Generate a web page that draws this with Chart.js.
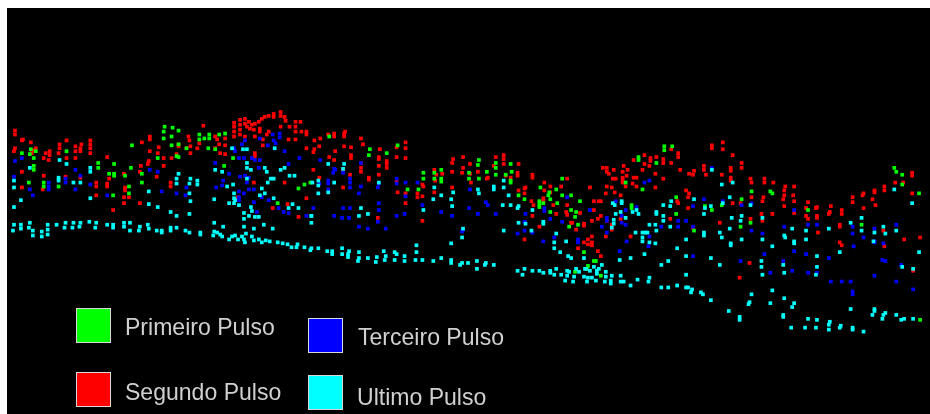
<!DOCTYPE html>
<html>
<head>
<meta charset="utf-8">
<title>Pulsos</title>
<script src="https://cdn.jsdelivr.net/npm/chart.js@4/dist/chart.umd.min.js"></script>
<style>
    html, body { margin: 0; padding: 0; background: #fff; overflow: hidden; }
    #caixa { position: absolute; left: 7px; top: 8px; width: 923px; height: 406px; background: #000; }
    .quadro { position: absolute; width: 33px; height: 33px; border: 1px solid #d8d8d8; }
    .rotulo { position: absolute; color: #d0d0d0; font: 24px "Liberation Sans", Arial, sans-serif; line-height: 30px; white-space: nowrap; transform: scaleX(.96); transform-origin: left center; }
</style>
</head>
<body>
<div id="caixa"><canvas id="pulsos" width="923" height="406"></canvas></div>
<div id="legenda"></div>
<script>
// pontos: [distancia, profundidade]
const segundoPulso = [[11,129],[11,133],[19,138],[18,139],[27,141],[11,147],[10,150],[32,147],[30,149],[28,152],[42,152],[46,150],[46,154],[40,157],[45,159],[56,143],[55,152],[56,147],[63,139],[63,157],[72,145],[72,150],[72,157],[78,143],[77,150],[77,147],[87,139],[87,143],[87,147],[87,152],[104,156],[139,141],[147,135],[147,138],[147,150],[156,146],[155,152],[161,157],[169,157],[176,143],[176,145],[174,153],[186,135],[187,139],[188,145],[188,152],[184,147],[197,142],[195,147],[201,124],[138,165],[146,160],[145,163],[137,171],[121,173],[161,165],[154,176],[168,182],[168,186],[104,183],[104,186],[93,182],[93,186],[77,177],[62,176],[40,175],[18,171],[18,187],[39,189],[93,195],[122,187],[122,190],[126,197],[121,197],[121,203],[137,203],[110,210],[106,178],
    [232,121],[232,125],[232,130],[232,135],[238,118],[238,123],[238,128],[238,133],[243,117],[243,122],[247,120],[245,125],[248,127],[250,123],[252,128],[253,122],[257,120],[260,117],[263,115],[267,114],[272,112],[272,115],[279,110],[279,114],[283,115],[284,119],[288,125],[294,120],[294,125],[294,130],[299,120],[300,130],[305,130],[305,133],[279,125],[258,127],[258,130],[267,130],[265,133],[253,135],[243,135],[223,137],[213,135],[215,138],[217,143],[223,144],[213,147],[218,152],[223,153],[261,138],[261,144],[287,138],[294,138],[305,147],[253,152],[253,155],[252,182],[283,182],[305,198],[286,204],[271,208],[297,217],[236,197],
    [313,139],[319,137],[327,133],[333,132],[333,135],[343,132],[343,135],[344,130],[360,137],[362,143],[318,145],[313,148],[312,151],[343,145],[350,146],[334,150],[350,154],[350,157],[328,156],[333,159],[378,156],[379,148],[378,158],[396,146],[405,141],[405,147],[405,157],[396,156],[386,160],[386,163],[386,167],[360,162],[360,167],[360,171],[378,165],[378,174],[312,169],[318,177],[342,169],[349,174],[368,177],[368,179],[342,187],[396,180],[397,192],[405,193],[405,203],[422,184],[423,186],[417,193],[417,197],[422,196],[422,221],[434,169],[436,174],[442,173],[435,180],[434,192],[452,171],[453,158],[452,162],[452,187],[463,156],[463,167],[462,172],[470,163],[470,173],[471,182],[478,171],[487,178],[488,177],[496,156],[494,165],[504,154],[504,158],[504,163],[518,172],[518,175],[519,163],[506,175],[511,177],[533,174],[533,177],[377,218],[519,190],[525,188],[526,187],[525,193],[532,201],[534,205],[545,182],[551,186],[545,190],[562,186],[568,178],[551,192],[544,198],[544,201],[554,205],[568,205],[567,212],[568,215],[573,223],[577,230],[581,213],[585,224],[585,226],[591,187],[595,201],[600,201],[602,201],[604,167],[608,167],[608,171],[610,173],[615,169],[617,178],[614,178],[608,186],[613,187],[616,192],[607,193],[595,210],[593,221],[602,216],[599,219],[608,221],[613,225],[613,230],[607,237],[533,216],[540,227],[525,240],[593,237],[589,240],[589,245],[585,243],[593,243],[593,246],[579,249],[599,252],[602,257],[557,214],[572,223],
    [725,141],[714,144],[714,147],[725,148],[735,154],[680,152],[680,156],[673,148],[665,158],[665,162],[646,154],[646,163],[652,157],[652,160],[658,156],[635,159],[673,162],[651,165],[625,165],[629,169],[644,169],[624,171],[628,175],[635,177],[638,177],[624,177],[624,180],[624,182],[627,186],[634,183],[638,186],[657,173],[665,178],[657,187],[682,169],[691,173],[696,170],[695,174],[706,165],[706,169],[708,174],[724,174],[733,167],[733,170],[733,177],[733,180],[744,162],[744,167],[753,178],[754,182],[767,178],[767,182],[776,182],[788,186],[787,190],[797,186],[688,190],[691,193],[690,197],[679,201],[680,203],[690,208],[622,195],[735,203],[743,203],[754,197],[766,197],[765,201],[787,195],[786,199],[797,201],[787,206],[811,202],[796,195],[797,213],[820,207],[819,208],[809,208],[834,206],[833,212],[832,214],[820,216],[820,218],[811,219],[809,216],[845,210],[845,214],[856,202],[856,197],[867,193],[866,195],[878,190],[878,192],[888,186],[888,190],[876,199],[879,205],[867,208],[916,172],[916,175],[899,182],[907,182],[916,193],[672,219],[622,219],[722,223],[753,219],[765,221],[764,214],[775,214],[695,228],[632,237],[843,225],[843,227],[821,233],[887,231],[908,240],[924,238],[843,243],[845,246],[888,247],[752,264],[742,279],[917,272]]

const primeiroPulso = [[162,125],[161,130],[170,126],[176,129],[169,135],[161,137],[169,144],[176,143],[176,156],[174,155],[197,133],[197,138],[207,133],[207,137],[217,133],[223,132],[202,137],[206,147],[213,148],[222,165],[231,157],[129,144],[155,157],[184,147],[27,148],[26,153],[32,150],[18,152],[30,157],[30,165],[30,169],[63,150],[95,162],[95,167],[111,163],[111,173],[111,175],[106,173],[128,167],[122,175],[139,173],[126,186],[126,193],[139,182],[110,195],[40,182],[40,186],[25,182],[55,186],[297,188],[303,184],[276,203],[309,182],
    [369,148],[368,154],[397,144],[328,135],[386,152],[423,172],[423,178],[434,172],[434,178],[441,169],[441,178],[441,181],[418,189],[407,189],[479,159],[478,164],[496,162],[496,167],[496,174],[469,172],[469,178],[479,178],[487,171],[511,163],[512,171],[506,174],[511,180],[511,182],[541,187],[550,192],[549,195],[551,199],[540,201],[540,204],[540,207],[544,203],[551,212],[557,189],[563,178],[563,195],[572,195],[581,201],[558,203],[519,195],[525,199],[572,210],[577,212],[576,217],[579,225],[570,227],[585,253],[595,262],[589,267],[588,270],[576,273],[602,277],[597,262],
    [666,145],[666,149],[674,145],[640,156],[640,159],[658,162],[627,182],[644,189],[633,205],[633,208],[678,197],[678,214],[707,206],[714,210],[724,205],[744,199],[754,191],[773,191],[775,193],[811,210],[753,223],[743,227],[696,231],[898,167],[900,171],[906,174],[906,184],[923,193],[865,225],[924,322]]

const terceiroPulso = [[11,160],[18,157],[10,176],[26,189],[29,195],[45,182],[45,186],[45,189],[62,178],[62,182],[72,169],[72,189],[77,175],[87,184],[104,195],[147,169],[155,171],[159,191],[174,193],[183,195],[184,187],[213,162],[227,173],[214,187],[220,185],[221,180],[240,143],[243,139],[258,137],[271,133],[278,132],[278,136],[266,144],[272,139],[274,142],[283,150],[298,157],[287,163],[233,150],[232,147],[237,157],[242,157],[253,159],[258,159],[250,157],[238,176],[243,175],[247,177],[257,167],[237,191],[242,193],[245,182],[247,189],[252,189],[237,197],[237,200],[267,200],[260,197],[277,208],[282,212],[287,213],[305,216],[255,212],[252,202],
    [319,159],[333,168],[334,169],[342,172],[332,172],[349,178],[349,182],[349,187],[360,162],[360,186],[358,193],[377,187],[378,183],[396,178],[396,183],[405,182],[417,182],[405,196],[378,203],[378,210],[312,208],[342,208],[349,208],[333,216],[341,218],[348,218],[396,216],[404,214],[358,227],[367,229],[385,229],[377,222],[327,180],[327,183],[318,183],[327,189],[422,205],[441,212],[452,216],[469,208],[478,214],[496,214],[486,202],[488,205],[470,189],[463,230],[462,232],[526,214],[525,222],[525,231],[518,234],[533,233],[544,242],[555,238],[545,208],[545,211],[551,219],[568,197],[563,222],[591,210],[603,227],[608,218],[608,221],[608,233],[617,201],[579,240],[579,243],
    [714,167],[646,182],[651,180],[638,207],[627,210],[623,216],[623,223],[627,225],[695,206],[706,199],[725,201],[744,205],[754,203],[680,221],[688,221],[680,227],[663,227],[695,227],[651,237],[628,242],[650,247],[621,252],[695,257],[754,231],[765,234],[787,227],[811,225],[820,225],[797,210],[797,252],[856,227],[856,234],[867,238],[878,229],[900,225],[857,247],[878,243],[887,244],[767,255],[809,255],[832,259],[786,262],[743,262],[773,274],[795,272],[811,274],[820,274],[886,261],[889,262],[905,266],[878,277],[834,283],[845,283],[854,283],[900,283],[917,291],[856,293],[856,296],[878,242]]

const ultimoPulso = [[56,159],[63,163],[26,167],[10,180],[10,187],[55,177],[55,180],[70,182],[77,182],[17,200],[10,207],[87,167],[87,171],[87,198],[146,191],[146,204],[155,207],[168,212],[174,216],[187,214],[176,173],[174,178],[174,183],[188,178],[187,183],[195,180],[195,184],[187,193],[188,201],[212,199],[213,169],[220,171],[225,186],[231,184],[227,203],[232,193],[232,198],[232,203],[237,205],[242,213],[242,219],[247,216],[253,217],[257,217],[249,207],[250,211],[230,147],[245,148],[245,162],[245,167],[249,169],[241,148],[263,167],[265,171],[279,169],[283,167],[288,175],[293,175],[269,178],[272,178],[266,182],[245,178],[260,188],[263,193],[258,195],[272,198],[287,208],[291,204],[297,208],[310,216],[233,200],[273,147],
    [10,225],[9,231],[17,225],[17,229],[26,223],[25,228],[29,231],[29,236],[38,232],[38,237],[44,225],[44,230],[44,235],[53,225],[62,223],[61,228],[70,223],[69,228],[77,223],[76,227],[86,222],[93,223],[92,228],[104,225],[110,225],[110,228],[121,223],[121,227],[127,223],[127,231],[137,227],[136,231],[145,225],[146,229],[154,231],[159,231],[159,233],[168,228],[168,231],[174,228],[183,231],[187,233],[198,233],[198,235],[212,223],[212,232],[211,236],[215,233],[218,235],[220,237],[221,227],[227,240],[230,237],[233,236],[236,240],[240,237],[242,240],[244,234],[243,243],[250,237],[252,241],[257,240],[260,243],[264,241],[268,242],[271,229],[252,229],[242,227],[262,225],[276,243],[281,244],[286,245],[290,248],[296,245],[295,248],[303,248],[309,251],
    [310,249],[317,249],[326,252],[331,252],[331,255],[341,249],[341,255],[348,252],[347,255],[347,258],[358,253],[358,259],[357,262],[367,259],[376,258],[375,263],[385,257],[384,261],[383,252],[394,253],[396,255],[394,261],[404,257],[404,262],[415,261],[422,261],[416,246],[416,253],[433,262],[441,259],[451,261],[451,264],[462,264],[460,266],[468,264],[477,262],[477,270],[486,264],[485,266],[494,266],[518,272],[525,270],[523,276],[533,272],[540,272],[544,274],[551,272],[551,274],[555,276],[557,270],[562,276],[568,272],[570,273],[568,277],[566,282],[574,283],[575,278],[577,270],[580,273],[586,270],[585,278],[589,279],[588,283],[593,279],[597,282],[598,272],[600,270],[595,268],[598,275],[603,266],[607,273],[607,278],[606,283],[613,277],[612,282],[612,285],[591,272],[587,270],
    [327,163],[343,163],[342,168],[317,180],[317,185],[317,193],[333,182],[327,192],[311,182],[378,182],[360,208],[358,216],[367,214],[310,216],[310,223],[434,187],[441,195],[453,192],[433,199],[451,199],[452,206],[423,210],[478,189],[479,193],[494,186],[494,189],[504,180],[504,187],[509,195],[503,205],[511,205],[519,206],[518,208],[533,210],[526,224],[519,223],[532,231],[544,222],[544,224],[557,234],[555,243],[555,249],[567,242],[561,253],[569,257],[572,259],[585,259],[463,229],[462,238],[451,244],[504,231],[614,203],[616,205],[617,214],[615,220],[615,224],[613,228],
    [714,169],[724,184],[735,182],[623,201],[623,203],[638,210],[640,214],[634,212],[622,212],[627,218],[665,205],[673,201],[672,206],[658,212],[658,214],[665,216],[665,221],[672,227],[651,225],[657,225],[658,231],[637,233],[644,233],[647,233],[649,233],[644,238],[644,242],[651,243],[657,244],[688,240],[646,255],[679,249],[632,259],[621,261],[663,266],[670,262],[688,257],[713,259],[722,266],[707,208],[706,214],[713,206],[732,197],[725,203],[696,199],[753,205],[734,218],[743,221],[744,216],[732,229],[722,233],[724,238],[706,233],[706,236],[733,244],[733,246],[744,240],[765,218],[765,240],[775,247],[795,229],[787,236],[788,238],[797,242],[797,244],[809,231],[809,240],[820,257],[832,229],[843,253],[854,223],[865,218],[865,231],[878,233],[877,242],[887,227],[889,234],[900,231],[916,203],[898,189],[923,253],[906,268],[917,270],[764,262],[764,268],[786,266],[765,276],[787,274],[820,268],[819,276],[688,276],[622,277],[622,283],[625,283],[632,287],[639,281],[650,283],[651,279],[663,289],[670,289],[679,287],[688,289],[690,289],[694,291],[693,294],[703,294],[705,296],[713,302],[754,296],[775,292],[787,300],[773,305],[752,304],[751,306],[797,305],[795,309],[731,313],[742,319],[742,322],[786,317],[786,319],[811,321],[820,322],[794,330],[808,330],[819,330],[833,324],[832,327],[832,332],[844,328],[843,330],[856,330],[856,332],[867,334],[854,311],[878,311],[878,313],[876,317],[889,315],[887,317],[886,321],[900,317],[908,321],[905,322],[917,321]]

const nomesPulsos = ['Primeiro Pulso', 'Segundo Pulso', 'Terceiro Pulso', 'Ultimo Pulso']
const coresPulsos = ['#00ff00', '#ff0000', '#0000ff', '#00ffff']

function serie(nome, cor, pontos, ordem)
{
    return {
        label: nome,
        data: pontos.map(p => ({x: p[0], y: p[1]})),
        backgroundColor: cor,
        borderWidth: 0,
        pointStyle: 'rect',
        pointRadius: 2.6,
        order: ordem
    }
}

let grafico = new Chart(document.getElementById('pulsos'), {
    type: 'scatter',
    data: {
        datasets: [
            serie(nomesPulsos[3], coresPulsos[3], ultimoPulso, 1),
            serie(nomesPulsos[0], coresPulsos[0], primeiroPulso, 2),
            serie(nomesPulsos[2], coresPulsos[2], terceiroPulso, 3),
            serie(nomesPulsos[1], coresPulsos[1], segundoPulso, 4)
        ]
    },
    options: {
        responsive: false,
        animation: false,
        layout: { padding: 0 },
        plugins: { legend: { display: false }, tooltip: { enabled: false } },
        scales: {
            x: { type: 'linear', min: 7, max: 930, display: false },
            y: { type: 'linear', min: 8, max: 414, reverse: true, display: false }
        }
    }
})

// legenda feita a mao, os quadros nao ficam alinhados na figura
let legenda = document.getElementById('legenda')
const quadrosLegenda = [[76, 308, 125, 312], [76, 372, 125, 377], [308, 318, 358, 322], [308, 375, 357, 382]]
nomesPulsos.forEach((nome, i) => {
    let q = quadrosLegenda[i]
    legenda.innerHTML += `<div class="quadro" style="left:${q[0]}px;top:${q[1]}px;background:${coresPulsos[i]}"></div>
        <div class="rotulo" style="left:${q[2]}px;top:${q[3]}px">${nome}</div>`
})
</script>
</body>
</html>
